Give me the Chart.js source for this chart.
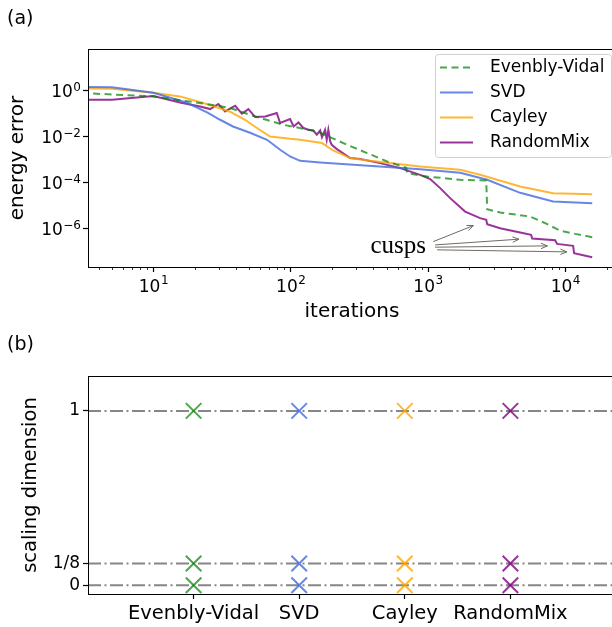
<!DOCTYPE html>
<html>
<head>
<meta charset="utf-8">
<script src="https://cdn.jsdelivr.net/npm/chart.js@4.4.1/dist/chart.umd.min.js"></script>
<style>
  html, body { margin: 0; padding: 0; background: #fff; overflow: hidden; }
  .wrap { position: relative; width: 612px; height: 627px; overflow: hidden; }
  canvas { position: absolute; left: 0; }
  #energy { top: 0; }
  #scaling { top: 330px; }
  .panel { position: absolute; font-family: "DejaVu Sans"; font-size: 19px; color: #000; }
</style>
</head>
<body>
<div class="wrap">
  <canvas id="energy" width="630" height="330"></canvas>
  <canvas id="scaling" width="630" height="297"></canvas>
  <div class="panel" style="left:7px; top:6px;">(a)</div>
  <div class="panel" style="left:7px; top:332px;">(b)</div>
</div>
<script>
// ---- data ----
const evIter = [3, 10, 23.7, 36.2, 53.2, 88, 156, 258, 360, 504, 692, 705, 986, 1712, 2655, 2698, 3351, 5547, 7129, 8432, 9166, 11800, 15700];
const evErr = [0.77, 0.55, 0.264, 0.172, 0.0794, 0.0323, 0.0165, 0.00436, 0.0019, 0.000818, 0.000436, 0.000256, 0.000182, 0.000131, 0.000122, 6.97e-6, 4.96e-6, 3.33e-6, 1.72e-6, 1.04e-6, 8.18e-7, 5.88e-7, 4.23e-7];

const svdIter = [3, 5, 10, 17.6, 25, 30.6, 38, 50.6, 67.3, 83.7, 99, 117, 164, 877, 1714, 2698, 4690, 8150, 15700];
const svdErr = [1.41, 1.38, 0.79, 0.29, 0.107, 0.0532, 0.0272, 0.0145, 0.0072, 0.00264, 0.00135, 0.000877, 0.000741, 0.000375, 0.000264, 0.000131, 3.57e-5, 1.49e-5, 1.27e-5];

const cayIter = [3, 5, 10, 15.6, 22.5, 26.8, 36.2, 46.5, 57.9, 70.8, 99, 117, 169, 204, 271, 379, 877, 1714, 2397, 4690, 8150, 15700];
const cayErr = [1.22, 1.19, 0.8, 0.55, 0.3, 0.216, 0.119, 0.0532, 0.0216, 0.01, 0.0079, 0.0072, 0.00517, 0.00246, 0.00115, 0.000877, 0.000497, 0.00036, 0.000216, 6.7e-5, 3.46e-5, 3.13e-5];

const rmIter = [3, 5, 10, 15.9, 21.9, 25.9, 29.7, 33.3, 39.4, 44.1, 49.2, 55.1, 65.2, 79.2, 83.7, 99, 105, 114, 124, 134, 146, 155, 164, 169, 178, 183, 188, 194, 199, 217, 271, 321, 448, 627, 877, 1037, 1227, 1450, 1864, 2397, 2655, 2698, 3351, 4690, 5637, 5741, 8432, 8714, 11400, 11590, 15700];
const rmErr = [0.39, 0.39, 0.57, 0.29, 0.2, 0.155, 0.256, 0.122, 0.216, 0.097, 0.155, 0.0697, 0.0741, 0.104, 0.0383, 0.0571, 0.0272, 0.0406, 0.0232, 0.0196, 0.0182, 0.0119, 0.0182, 0.0094, 0.0196, 0.0072, 0.0196, 0.00607, 0.00436, 0.00283, 0.00115, 0.00104, 0.000697, 0.000423, 0.000216, 0.000141, 5.71e-5, 2.1e-5, 5.48e-6, 2.83e-6, 2.39e-6, 1.55e-6, 1.04e-6, 6.7e-7, 5.32e-7, 3.67e-7, 3.13e-7, 2.16e-7, 1.77e-7, 8.5e-8, 5.7e-8];

const energyTicks = [1, 1e-2, 1e-4, 1e-6];
const iterTicks = [10, 100, 1000, 10000];

// cusp arrows: [tail iteration, tail error, head iteration, head error]
const cuspArrows = [
    [1094, 2.72e-7, 2143, 1.35e-6],
    [1127, 1.95e-7, 4603, 3.46e-7],
    [1127, 1.55e-7, 7413, 1.77e-7],
    [1164, 1.19e-7, 10260, 9.7e-8]
];
const cuspLabelAt = [968, 9.06e-8];

const methods = ['Evenbly-Vidal', 'SVD', 'Cayley', 'RandomMix'];
const evDims = [0, 0.125, 1];
const svdDims = [0, 0.125, 1];
const cayDims = [0, 0.125, 1];
const rmDims = [0, 0.125, 1];
const exactDims = [0, 0.125, 1];
const dimTickLabels = ['0', '1/8', '1'];

const colors = {
    ev: 'rgba(0,128,0,0.7)',
    svd: 'rgba(65,105,225,0.8)',
    cay: 'rgba(255,165,0,0.8)',
    rm: 'rgba(128,0,128,0.8)'
};

Chart.defaults.font.family = 'DejaVu Sans';
Chart.defaults.color = '#000';

function pairs(xs, ys) {
    return xs.map((x, i) => ({ x: x, y: ys[i] }));
}

// full box around the plot area
const framePlugin = {
    id: 'frame',
    afterDraw(chart) {
        const a = chart.chartArea, ctx = chart.ctx;
        ctx.save();
        ctx.strokeStyle = '#000';
        ctx.lineWidth = 1;
        ctx.strokeRect(Math.round(a.left) + 0.5, Math.round(a.top) + 0.5,
            Math.round(a.right - a.left), Math.round(a.bottom - a.top));
        ctx.restore();
    }
};

// 10^n labels with a raised exponent, and short minor ticks on x
const powLabelPlugin = {
    id: 'powLabels',
    afterDraw(chart) {
        const sx = chart.scales.x, sy = chart.scales.y, a = chart.chartArea, ctx = chart.ctx;
        const base = '17px "DejaVu Sans"', sup = '12px "DejaVu Sans"';
        const parts = v => {
            const e = String(Math.round(Math.log10(v))).replace('-', '\u2212');
            ctx.font = base; const wb = ctx.measureText('10').width;
            ctx.font = sup; const we = ctx.measureText(e).width;
            return { e, wb, we };
        };
        ctx.save();
        ctx.fillStyle = '#000';
        ctx.textBaseline = 'alphabetic';
        ctx.textAlign = 'left';
        iterTicks.forEach(v => {
            const px = sx.getPixelForValue(v);
            const { e, wb, we } = parts(v);
            const x0 = px - (wb + we) / 2;
            ctx.font = base; ctx.fillText('10', x0, a.bottom + 24.5);
            ctx.font = sup; ctx.fillText(e, x0 + wb + 0.5, a.bottom + 16.5);
        });
        energyTicks.forEach(v => {
            const py = sy.getPixelForValue(v);
            const { e, wb, we } = parts(v);
            const x1 = a.left - 7;
            ctx.font = sup; ctx.fillText(e, x1 - we, py + 0.5);
            ctx.font = base; ctx.fillText('10', x1 - we - wb - 0.5, py + 6.5);
        });
        // minor ticks
        ctx.strokeStyle = '#000';
        ctx.lineWidth = 0.8;
        sx.ticks.forEach(t => {
            if (iterTicks.includes(t.value)) return;
            const px = Math.round(sx.getPixelForValue(t.value)) + 0.5;
            ctx.beginPath();
            ctx.moveTo(px, a.bottom);
            ctx.lineTo(px, a.bottom + 3);
            ctx.stroke();
        });
        ctx.restore();
    }
};

// legend box in the upper right corner
const boxLegendPlugin = {
    id: 'boxLegend',
    afterDatasetsDraw(chart) {
        const a = chart.chartArea, ctx = chart.ctx;
        const w = 176, h = 103;
        const x0 = a.right - 5 - w, y0 = a.top + 5;
        ctx.save();
        ctx.beginPath();
        ctx.roundRect(x0 + 0.5, y0 + 0.5, w, h, 3);
        ctx.fillStyle = 'rgba(255,255,255,0.8)';
        ctx.fill();
        ctx.strokeStyle = '#d0d0d0';
        ctx.lineWidth = 1;
        ctx.stroke();
        ctx.font = '17px "DejaVu Sans"';
        ctx.textBaseline = 'middle';
        chart.data.datasets.forEach((ds, i) => {
            const y = y0 + 13.5 + i * 25;
            ctx.beginPath();
            ctx.setLineDash(ds.borderDash || []);
            ctx.strokeStyle = ds.borderColor;
            ctx.lineWidth = ds.borderWidth;
            ctx.moveTo(x0 + 5, y);
            ctx.lineTo(x0 + 38, y);
            ctx.stroke();
            ctx.setLineDash([]);
            ctx.fillStyle = '#000';
            ctx.fillText(ds.label, x0 + 55, y);
        });
        ctx.restore();
    }
};

// "cusps" note with arrows
const cuspPlugin = {
    id: 'cusps',
    afterDatasetsDraw(chart) {
        const sx = chart.scales.x, sy = chart.scales.y, ctx = chart.ctx;
        ctx.save();
        ctx.strokeStyle = '#6f6a64';
        ctx.lineWidth = 1;
        cuspArrows.forEach(([x1, y1, x2, y2]) => {
            const px1 = sx.getPixelForValue(x1), py1 = sy.getPixelForValue(y1);
            const px2 = sx.getPixelForValue(x2), py2 = sy.getPixelForValue(y2);
            const ang = Math.atan2(py2 - py1, px2 - px1);
            ctx.beginPath();
            ctx.moveTo(px1, py1);
            ctx.lineTo(px2, py2);
            ctx.moveTo(px2 - 7 * Math.cos(ang - 0.4), py2 - 7 * Math.sin(ang - 0.4));
            ctx.lineTo(px2, py2);
            ctx.lineTo(px2 - 7 * Math.cos(ang + 0.4), py2 - 7 * Math.sin(ang + 0.4));
            ctx.stroke();
        });
        ctx.fillStyle = '#000';
        ctx.font = '25px "Liberation Serif"';
        ctx.textAlign = 'right';
        ctx.textBaseline = 'alphabetic';
        ctx.fillText('cusps', sx.getPixelForValue(cuspLabelAt[0]), sy.getPixelForValue(cuspLabelAt[1]));
        ctx.restore();
    }
};

// tick positions of the log x axis (1..9 per decade)
const xTickPos = [];
for (let d = 1; d <= 10000; d *= 10) {
    for (let m = 1; m <= 9; m++) xTickPos.push(m * d);
}

new Chart(document.getElementById('energy'), {
    type: 'line',
    data: {
        datasets: [
            { label: 'Evenbly-Vidal', data: pairs(evIter, evErr), borderColor: colors.ev, borderDash: [7, 4.5], borderWidth: 2 },
            { label: 'SVD', data: pairs(svdIter, svdErr), borderColor: colors.svd, borderWidth: 2 },
            { label: 'Cayley', data: pairs(cayIter, cayErr), borderColor: colors.cay, borderWidth: 2 },
            { label: 'RandomMix', data: pairs(rmIter, rmErr), borderColor: colors.rm, borderWidth: 2 }
        ]
    },
    options: {
        responsive: false,
        animation: false,
        devicePixelRatio: 1,
        elements: { point: { radius: 0 }, line: { tension: 0, fill: false } },
        layout: { padding: { left: 0, top: 49, right: 14, bottom: 0 } },
        plugins: { legend: { display: false }, tooltip: { enabled: false } },
        scales: {
            x: {
                type: 'logarithmic',
                min: 3.34,
                max: 23400,
                afterBuildTicks: s => { s.ticks = xTickPos.filter(v => v >= s.min && v <= s.max).map(v => ({ value: v })); },
                afterFit: s => { s.height = 63; },
                ticks: { autoSkip: false, maxRotation: 0, callback: () => '' },
                grid: {
                    drawOnChartArea: false, drawTicks: true, tickLength: 5, tickWidth: 1.2,
                    tickColor: c => iterTicks.includes(c.tick && c.tick.value) ? '#000' : 'rgba(0,0,0,0)'
                },
                border: { display: false },
                title: { display: true, text: 'iterations', font: { size: 20 }, padding: { top: 0, bottom: 6 } }
            },
            y: {
                type: 'logarithmic',
                min: 2.14e-8,
                max: 63,
                afterBuildTicks: s => { s.ticks = energyTicks.map(v => ({ value: v })); },
                afterFit: s => { s.width = 88; },
                ticks: { autoSkip: false, callback: () => '' },
                grid: { drawOnChartArea: false, drawTicks: true, tickLength: 5, tickColor: '#000', tickWidth: 1.2 },
                border: { display: false },
                title: { display: true, text: 'energy error', font: { size: 20 }, padding: { top: 6, bottom: 0 } }
            }
        }
    },
    plugins: [framePlugin, cuspPlugin, boxLegendPlugin, powLabelPlugin]
});

// ---- panel (b) ----
const xLo = 0, xHi = 5;
const methodSets = [
    [evDims, colors.ev], [svdDims, colors.svd], [cayDims, colors.cay], [rmDims, colors.rm]
];
const markerSets = methodSets.map(([dims, col], i) => ({
    data: dims.map(d => ({ x: i + 1, y: d })),
    pointStyle: 'crossRot',
    pointRadius: 11,
    pointBorderWidth: 2,
    pointBorderColor: col,
    pointBackgroundColor: col,
    showLine: false
}));
const refLines = exactDims.map(d => ({
    data: [{ x: xLo, y: d }, { x: xHi, y: d }],
    showLine: true,
    pointRadius: 0,
    borderColor: 'rgba(128,128,128,0.95)',
    borderWidth: 2,
    borderDash: [13, 3.5, 2, 3.5]
}));

new Chart(document.getElementById('scaling'), {
    type: 'scatter',
    data: { datasets: markerSets.concat(refLines) },
    options: {
        responsive: false,
        animation: false,
        devicePixelRatio: 1,
        layout: { padding: { left: 0, top: 46, right: 14, bottom: 0 } },
        plugins: { legend: { display: false }, tooltip: { enabled: false } },
        scales: {
            x: {
                type: 'linear',
                min: xLo,
                max: xHi,
                afterBuildTicks: s => { s.ticks = methods.map((m, i) => ({ value: i + 1 })); },
                afterFit: s => { s.height = 33; },
                ticks: { autoSkip: false, maxRotation: 0, padding: 3, font: { size: 19.5 }, callback: v => methods[v - 1] },
                grid: { drawOnChartArea: false, drawTicks: true, tickLength: 5, tickColor: '#000', tickWidth: 1.2 },
                border: { display: false }
            },
            y: {
                type: 'linear',
                min: -0.05,
                max: 1.2,
                afterBuildTicks: s => { s.ticks = exactDims.map(v => ({ value: v })); },
                afterFit: s => { s.width = 88; },
                ticks: { autoSkip: false, padding: 3, font: { size: 17 }, callback: (v, i) => dimTickLabels[i] },
                grid: { drawOnChartArea: false, drawTicks: true, tickLength: 5, tickColor: '#000', tickWidth: 1.2 },
                border: { display: false },
                title: { display: true, text: 'scaling dimension', font: { size: 19.5 }, padding: { top: 19, bottom: 0 } }
            }
        }
    },
    plugins: [framePlugin]
});
</script>
</body>
</html>
